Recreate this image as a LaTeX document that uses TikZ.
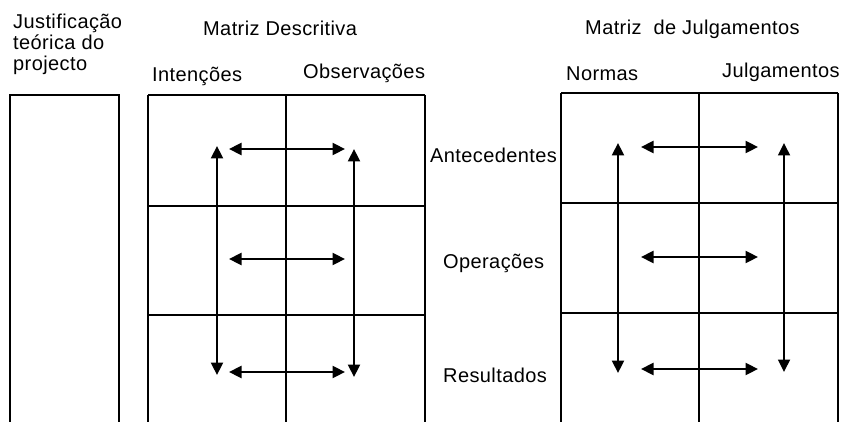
\documentclass[tikz,border=0pt]{standalone}
\usepackage{fontspec}
\setmainfont[LetterSpace=2]{Liberation Sans}
\usetikzlibrary{arrows.meta}
\tikzset{
  grid/.style={line width=1.7pt},
  lbl/.style={anchor=base west, inner sep=0pt, font=\fontsize{20}{21}\selectfont},
  dbl/.style={line width=2.4pt, {Triangle[length=12.5pt,width=12pt]}-{Triangle[length=12.5pt,width=12pt]}},
}
\begin{document}
\begin{tikzpicture}[x=1pt,y=-1pt]
\useasboundingbox (0,0) rectangle (842,422);
% left box
\draw[grid] (10,422) -- (10,95) -- (119,95) -- (119,422);
% descriptive matrix
\draw[grid] (148,95) -- (425,95);
\draw[grid] (148,95) -- (148,422);
\draw[grid] (286,95) -- (286,422);
\draw[grid] (425,95) -- (425,422);
\draw[grid] (148,206) -- (425,206);
\draw[grid] (148,315) -- (425,315);
% judgment matrix
\draw[grid] (561,93) -- (838,93);
\draw[grid] (561,93) -- (561,422);
\draw[grid] (699,93) -- (699,422);
\draw[grid] (838,93) -- (838,422);
\draw[grid] (561,203) -- (838,203);
\draw[grid] (561,313) -- (838,313);
% labels
\node[lbl] (just1) at (13,29) {Justificação};
\node[lbl] (just2) at (13,50) {teórica do};
\node[lbl] (just3) at (13,71) {projecto};
\node[lbl] (md) at (203,36) {Matriz Descritiva};
\node[lbl] (int) at (152,82) {Intenções};
\node[lbl] (obs) at (303,79) {Observações};
\node[lbl] (mj) at (585,35) {Matriz~ de Julgamentos};
\node[lbl] (nor) at (566,81) {Normas};
\node[lbl] (jul) at (722,78) {Julgamentos};
\node[lbl] (ant) at (430,163) {Antecedentes};
\node[lbl] (ope) at (443,268) {Operações};
\node[lbl] (res) at (443,382) {Resultados};
% arrow endpoints - descriptive
\coordinate (dvl1) at (217,146); \coordinate (dvl2) at (217,375);
\coordinate (dvr1) at (354,149); \coordinate (dvr2) at (354,377);
\coordinate (dh1a) at (229,149); \coordinate (dh1b) at (345,149);
\coordinate (dh2a) at (229,259); \coordinate (dh2b) at (345,259);
\coordinate (dh3a) at (229,372); \coordinate (dh3b) at (345,372);
\draw[dbl] (dvl1) -- (dvl2);
\draw[dbl] (dvr1) -- (dvr2);
\draw[dbl] (dh1a) -- (dh1b);
\draw[dbl] (dh2a) -- (dh2b);
\draw[dbl] (dh3a) -- (dh3b);
% arrow endpoints - judgment
\coordinate (jvl1) at (618,143); \coordinate (jvl2) at (618,373);
\coordinate (jvr1) at (784,143); \coordinate (jvr2) at (784,372);
\coordinate (jh1a) at (641,147); \coordinate (jh1b) at (758,147);
\coordinate (jh2a) at (641,257); \coordinate (jh2b) at (758,257);
\coordinate (jh3a) at (641,369); \coordinate (jh3b) at (758,369);
\draw[dbl] (jvl1) -- (jvl2);
\draw[dbl, line width=1.8pt] (jvr1) -- (jvr2);
\draw[dbl] (jh1a) -- (jh1b);
\draw[dbl] (jh2a) -- (jh2b);
\draw[dbl] (jh3a) -- (jh3b);
\end{tikzpicture}
\end{document}
